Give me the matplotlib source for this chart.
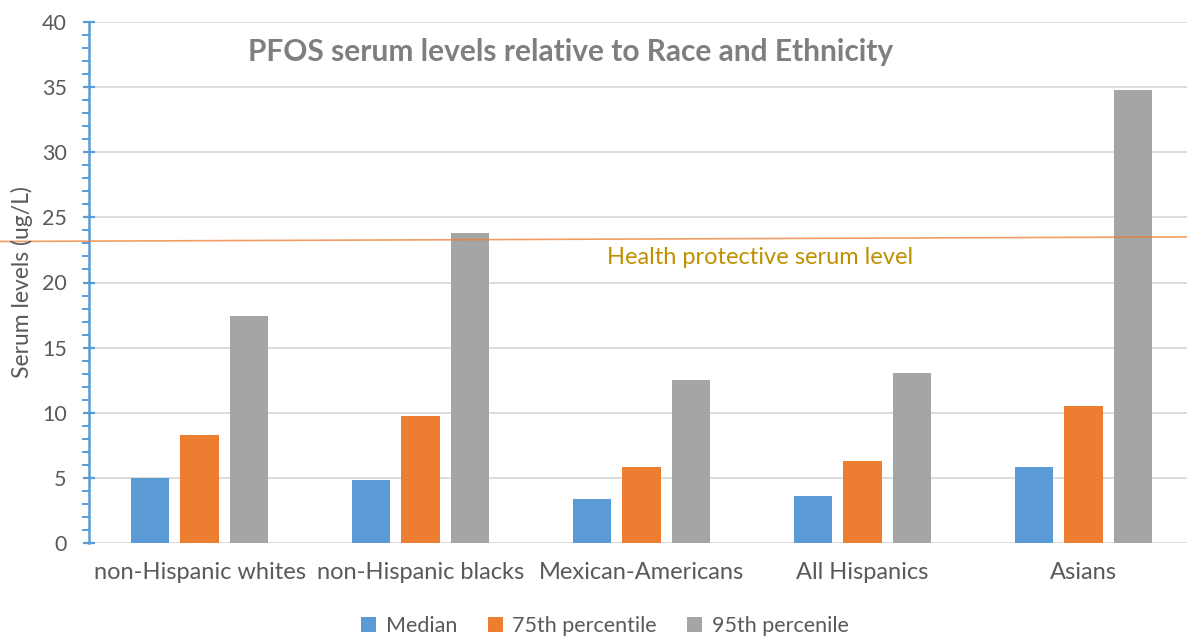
import matplotlib
matplotlib.use("Agg")
import matplotlib.pyplot as plt
import matplotlib.transforms as mtransforms
from matplotlib.ticker import MultipleLocator
import numpy as np

plt.rcParams['font.family'] = ['Lato', 'DejaVu Sans']

categories = ["non-Hispanic whites", "non-Hispanic blacks", "Mexican-Americans",
              "All Hispanics", "Asians"]
series_names = ["Median", "75th percentile", "95th percenile"]
median = [5.0, 4.8, 3.4, 3.6, 5.8]
pct75 = [8.3, 9.75, 5.8, 6.3, 10.5]
pct95 = [17.4, 23.8, 12.5, 13.05, 34.8]
series_colors = ["#5B9BD5", "#ED7D31", "#A5A5A5"]

# health protective serum level reference line (slightly sloped as drawn)
protective_left, protective_right = 23.15, 23.5
protective_label = "Health protective serum level"

title = "PFOS serum levels relative to Race and Ethnicity"
ylabel = "Serum levels (ug/L)"

W, H = 1187, 637
fig = plt.figure(figsize=(W / 100, H / 100), dpi=100)
ax = fig.add_axes([89 / W, 1 - 543 / H, (1194 - 89) / W, (543 - 22) / H])

x = np.arange(len(categories))
bar_w = 0.172
step = 0.224
for i, (vals, name, col) in enumerate(zip([median, pct75, pct95], series_names, series_colors)):
    ax.bar(x + (i - 1) * step, vals, width=bar_w, color=col, label=name, zorder=3)

ax.set_xlim(-0.5, len(categories) - 0.5)
ax.set_ylim(0, 40)
ax.yaxis.set_major_locator(MultipleLocator(5))
ax.yaxis.set_minor_locator(MultipleLocator(1))
ax.grid(axis='y', which='major', color='#D9D9D9', linewidth=1.3, zorder=0)
ax.set_axisbelow(True)

for s in ['top', 'right', 'bottom']:
    ax.spines[s].set_visible(False)
ax.spines['left'].set_color('#5B9BD5')
ax.spines['left'].set_linewidth(1.8)
ax.tick_params(axis='y', which='major', direction='inout', length=8, width=1.6,
               color='#5B9BD5', labelcolor='#595959', labelsize=15.5, pad=12)
ax.tick_params(axis='y', which='minor', direction='out', length=5, width=1.4,
               color='#5B9BD5')
ax.tick_params(axis='x', length=0, labelcolor='#595959', labelsize=17, pad=14)
ax.set_xticks(x)
ax.set_xticklabels(categories)

fig.text(22 / W, 1 - 282 / H, ylabel, rotation=90, ha='center', va='center',
         color='#595959', fontsize=16.5)

fig.text(571 / W, 1 - 52 / H, title, ha='center', va='center', color='#7F7F7F',
         fontsize=21.5, fontweight='bold')

# reference line spanning the full figure width
trans = mtransforms.blended_transform_factory(fig.transFigure, ax.transData)
ax.plot([0, 1], [protective_left, protective_right], transform=trans, color='#ED7D31',
        alpha=0.75, linewidth=1.2, clip_on=False, zorder=4)
ax.text(760, 1 - 257 / H, protective_label, transform=mtransforms.blended_transform_factory(
        mtransforms.IdentityTransform(), fig.transFigure), ha='center', va='center',
        color='#BF9000', fontsize=17)

handles, labels = ax.get_legend_handles_labels()
leg = fig.legend(handles, labels, loc='center', bbox_to_anchor=(605 / W, 1 - 626 / H),
                 ncol=3, frameon=False, fontsize=15.5, handlelength=0.7, handleheight=0.7,
                 columnspacing=1.4, handletextpad=0.45, labelcolor='#595959')

fig.savefig("out.png", dpi=100)
